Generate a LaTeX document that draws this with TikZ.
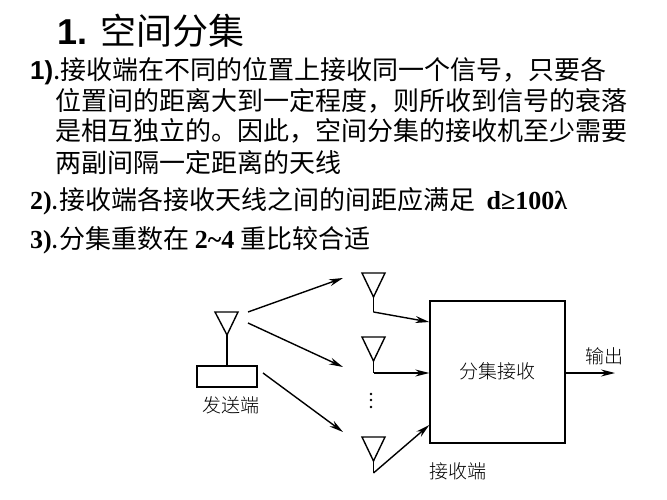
\documentclass[tikz,border=0pt]{standalone}
\usepackage{fontspec}
\setmainfont{Liberation Serif}
\newfontfamily\cjk{Noto Sans CJK SC}
\newfontfamily\cjkl{Noto Sans CJK SC Light}
\newfontfamily\titlef{Liberation Sans}
\usetikzlibrary{arrows.meta}
\begin{document}
\begin{tikzpicture}[x=1pt,y=-1pt,
  txt/.style={anchor=base west,inner sep=0pt,font=\fontsize{26}{26}\selectfont\cjk},
  lab/.style={inner sep=0pt,font=\fontsize{19}{19}\selectfont\cjkl},
  wire/.style={line width=1.4pt},
  arr/.style={wire,-{Stealth[length=14pt,width=7pt]}}]
\useasboundingbox (0,0) rectangle (667,500);
\node[anchor=base west,inner sep=0pt] (title) at (57,45) {\fontsize{36}{36}\selectfont\titlef\bfseries 1. \mdseries\cjk 空间分集};
\node[txt] (l1) at (30,80) {\titlef\bfseries 1)\mdseries\cjk.接收端在不同的位置上接收同一个信号，只要各};
\node[txt] (l2) at (55,111) {位置间的距离大到一定程度，则所收到信号的衰落};
\node[txt] (l3) at (55,141) {是相互独立的。因此，空间分集的接收机至少需要};
\node[txt] (l4) at (55,172) {两副间隔一定距离的天线};
\node[txt] (l5) at (30,210) {\rmfamily\bfseries 2)\mdseries\cjk.接收端各接收天线之间的间距应满足\ \ \rmfamily\bfseries d≥100λ};
\node[txt] (l6) at (30,248) {\rmfamily\bfseries 3)\mdseries\cjk.分集重数在 \rmfamily\bfseries 2\textasciitilde4 \mdseries\cjk 重比较合适};
% transmitter
\draw[wire] (215,312) -- (238,312) -- (227,335) -- cycle;
\node[draw,wire,minimum width=60pt,minimum height=21pt,inner sep=0pt] (tx) at (227,376.5) {};
\draw[wire] (227,335) -- (tx.north);
\node[lab] (txl) at (231,405) {发送端};
% receive antennas
\foreach \n/\y in {a/273,b/337,c/437}{
  \draw[wire] (362,\y) -- (385,\y) -- (373.5,\y+24) -- cycle;
  \coordinate (\n) at (373.5,\y+24);
}
\coordinate (a1) at (373.5,312);
\coordinate (b1) at (373.5,373);
\coordinate (c1) at (373.5,473);
\node[draw,wire,minimum width=135pt,minimum height=142pt,inner sep=0pt] (rx) at (497.5,372) {};
\node[lab] (rxl) at (497,371) {分集接收};
\draw[wire] (a) -- (a1);
\draw[arr] (a1) -- (rx.west |- 0,322);
\draw[wire] (b) -- (b1);
\draw[arr] (b1) -- (rx.west |- b1);
\draw[wire] (c) -- (c1);
\draw[arr] (c1) -- (rx.west |- 0,425);
\foreach \y in {394,400,407} \fill (371,\y) circle (1.3pt);
\coordinate (s1) at (248,312); \coordinate (e1) at (343,278);
\coordinate (s2) at (248,323); \coordinate (e2) at (343,367);
\coordinate (s3) at (263,373); \coordinate (e3) at (343,432);
\draw[arr] (s1) -- (e1);
\draw[arr] (s2) -- (e2);
\draw[arr] (s3) -- (e3);
\coordinate (out) at (615,373);
\draw[arr] (rx.east |- out) -- (out);
\node[lab] (outl) at (604,356) {输出};
\node[lab] (rxe) at (458,471) {接收端};
\end{tikzpicture}
\end{document}
